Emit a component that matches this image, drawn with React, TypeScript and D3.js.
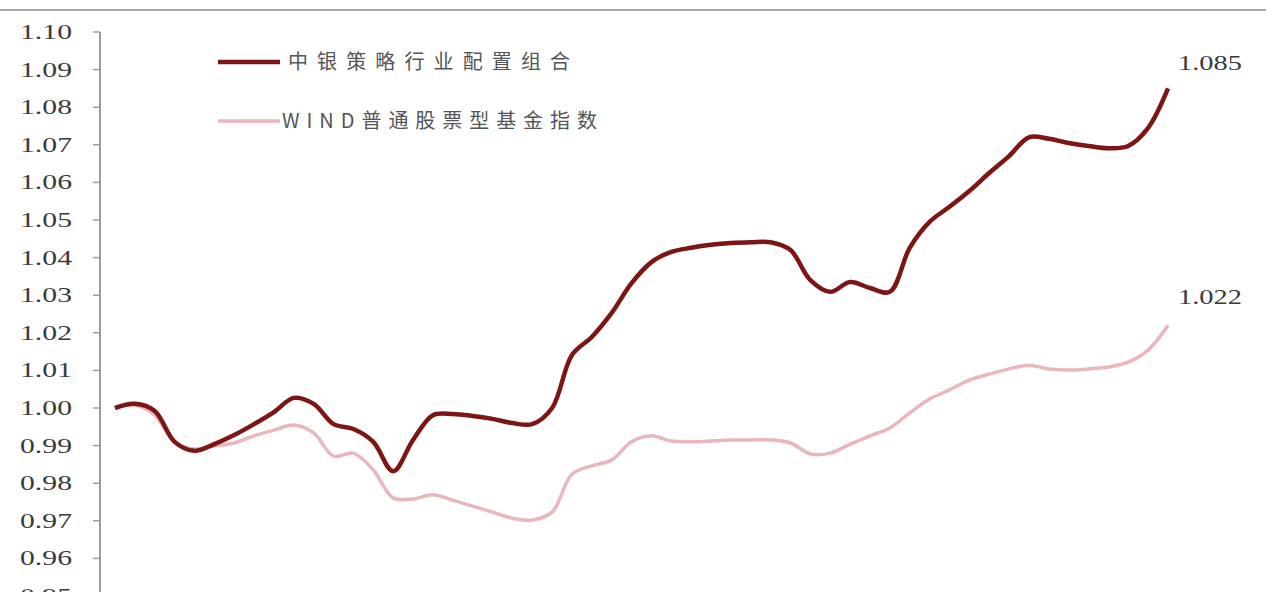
import React from "react";
import * as d3 from "d3";

const W = 1272;
const H = 592;

const periods: number[] = d3.range(54);

const strategyValues: number[] = [
  1.0, 1.0011, 0.9992, 0.991, 0.9886, 0.9904, 0.9928, 0.9957, 0.9989, 1.0027,
  1.0011, 0.9957, 0.9944, 0.991, 0.9832, 0.9915, 0.9981, 0.9984, 0.9979, 0.9971,
  0.996, 0.9957, 1.0, 1.0141, 1.0189, 1.0253, 1.0332, 1.0388, 1.0415, 1.0426,
  1.0434, 1.0439, 1.0441, 1.0441, 1.042, 1.034, 1.0309, 1.0335, 1.0319, 1.0309,
  1.0426, 1.0495, 1.0535, 1.0577, 1.0625, 1.067, 1.072, 1.0716, 1.0705, 1.0697,
  1.0691, 1.0697, 1.0745, 1.085,
];

const windValues: number[] = [
  1.0, 1.0008, 0.9981, 0.991, 0.9891, 0.9899, 0.9907, 0.9926, 0.9941, 0.9955,
  0.9934, 0.9872, 0.988, 0.9835, 0.9761, 0.9758, 0.9769, 0.9755, 0.9739, 0.9723,
  0.9707, 0.9702, 0.9723, 0.9824, 0.9846, 0.9862, 0.991, 0.9926, 0.9912, 0.991,
  0.9912, 0.9915, 0.9915, 0.9915, 0.9907, 0.9878, 0.988, 0.9904, 0.9926, 0.9947,
  0.9987, 1.0024, 1.0048, 1.0074, 1.009, 1.0104, 1.0114, 1.0104, 1.0101, 1.0104,
  1.0109, 1.0122, 1.0154, 1.022,
];

const yTicks: number[] = [
  1.1, 1.09, 1.08, 1.07, 1.06, 1.05, 1.04, 1.03, 1.02, 1.01, 1.0, 0.99, 0.98,
  0.97, 0.96, 0.95,
];

const seriesNames: string[] = ["中银策略行业配置组合", "WIND普通股票型基金指数"];
const endLabels: string[] = ["1.085", "1.022"];

const RED = "#7d1515";
const PINK = "#e8b6bc";

export default function App() {
  const x = d3.scaleLinear().domain([0, periods.length - 1]).range([115, 1168]);
  const y = d3.scaleLinear().domain([0.95, 1.1]).range([596, 32]);

  const line = d3
    .line<number>()
    .x((_, i) => x(periods[i]))
    .y((d) => y(d))
    .curve(d3.curveCatmullRom.alpha(0.5));

  const lastIdx = periods.length - 1;
  const serif = "'Liberation Serif', 'DejaVu Serif', serif";
  const cjk = "'Noto Sans CJK SC', sans-serif";

  return (
    <svg
      width={W}
      height={H}
      style={{ position: "absolute", left: 0, top: 0, background: "#fff" }}
    >
      {/* rule under the (cropped) title */}
      <line x1={0} x2={1266} y1={10} y2={10} stroke="#a8a8a8" strokeWidth={2} />

      {/* y axis */}
      <line x1={100} x2={100} y1={y(1.1)} y2={H} stroke="#9a9a9a" strokeWidth={2} />
      {yTicks.map((t) => (
        <g key={t}>
          <line x1={93} x2={100} y1={y(t)} y2={y(t)} stroke="#9a9a9a" strokeWidth={1.5} />
          <text
            x={72}
            y={y(t) + 7}
            textAnchor="end"
            fontFamily={serif}
            fontSize={22}
            fill="#3a3a3a"
            textLength={52}
            lengthAdjust="spacingAndGlyphs"
          >
            {t.toFixed(2)}
          </text>
        </g>
      ))}

      {/* series */}
      <path d={line(windValues) || ""} fill="none" stroke={PINK} strokeWidth={3.5} />
      <path d={line(strategyValues) || ""} fill="none" stroke={RED} strokeWidth={4.5} />

      {/* end labels */}
      <text
        x={1178}
        y={y(strategyValues[lastIdx]) - 18}
        fontFamily={serif}
        fontSize={22}
        fill="#3a3a3a"
        textLength={64}
        lengthAdjust="spacingAndGlyphs"
      >
        {endLabels[0]}
      </text>
      <text
        x={1178}
        y={y(windValues[lastIdx]) - 21}
        fontFamily={serif}
        fontSize={22}
        fill="#3a3a3a"
        textLength={64}
        lengthAdjust="spacingAndGlyphs"
      >
        {endLabels[1]}
      </text>

      {/* legend */}
      <line x1={218} x2={280} y1={62} y2={62} stroke={RED} strokeWidth={4.5} />
      <text x={288} y={69} fontFamily={cjk} fontSize={20} fill="#555" textLength={282} lengthAdjust="spacing">
        {seriesNames[0]}
      </text>
      <line x1={218} x2={280} y1={121} y2={121} stroke={PINK} strokeWidth={3.5} />
      <text x={282} y={128} fontFamily={cjk} fontSize={20} fill="#555" textLength={315} lengthAdjust="spacing">
        {seriesNames[1]}
      </text>
    </svg>
  );
}
